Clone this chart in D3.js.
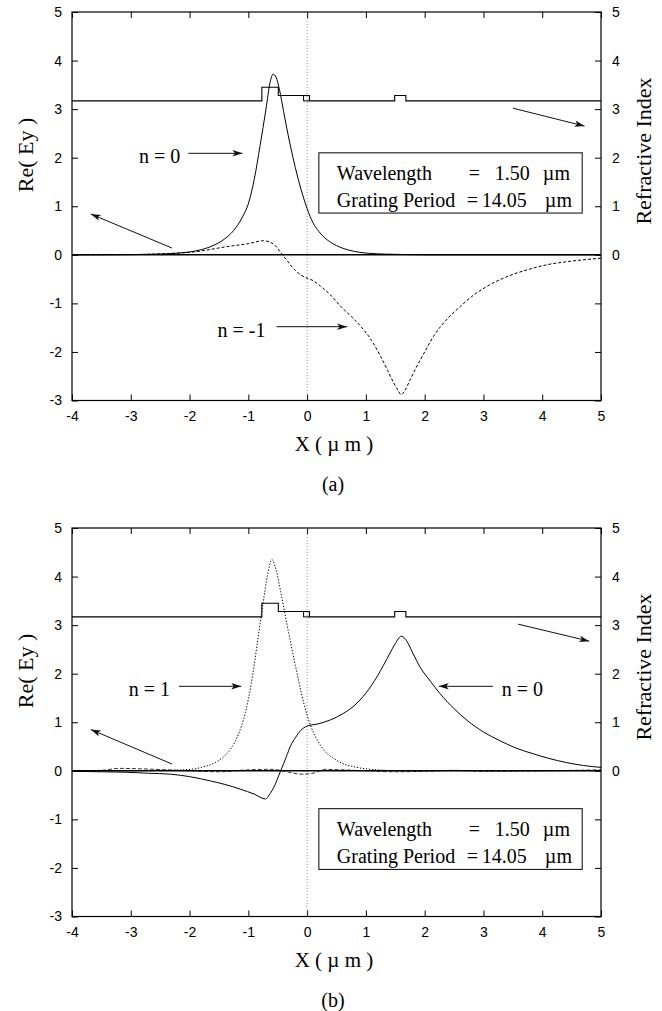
<!DOCTYPE html>
<html>
<head>
<meta charset="utf-8">
<script src="https://cdn.jsdelivr.net/npm/d3@7/dist/d3.min.js"></script>
<style>
  body { margin: 0; background: #fff; }
  svg { display: block; }
  .tick text { font-family: "Liberation Sans", Arial, sans-serif; font-size: 14px; fill: #000; }
  .serif { font-family: "Liberation Serif", "Times New Roman", serif; fill: #000; }
</style>
</head>
<body>
<svg id="chart" width="662" height="1011"></svg>
<script>
// ---- data ----
const xTickValues = [-4, -3, -2, -1, 0, 1, 2, 3, 4, 5];
const yTickValues = [-3, -2, -1, 0, 1, 2, 3, 4, 5];
const rightTickLabels = [0, 1, 2, 3, 4, 5];

// refractive index profile (x in um, index)
const profileX = [-4, -0.77, -0.77, -0.49, -0.49, 0.04, 0.04, 1.49, 1.49, 1.68, 1.68, 5];
const profileN = [3.17, 3.17, 3.45, 3.45, 3.28, 3.28, 3.17, 3.17, 3.28, 3.28, 3.17, 3.17];
const capLayer = [-0.06, 0.04, 3.17, 3.28]; // x0, x1, n0, n1

// panel (a)
const aSolidX = [-4, -3, -2.6, -2.2, -1.82, -1.6, -1.4, -1.25, -1.1, -1.0, -0.9, -0.8, -0.7, -0.63, -0.58, -0.53, -0.47, -0.4, -0.32, -0.24, -0.16, -0.08, 0, 0.1, 0.2, 0.34, 0.5, 0.7, 0.9, 1.2, 1.5, 2, 5];
const aSolidY = [0, 0.004, 0.012, 0.035, 0.1, 0.19, 0.33, 0.5, 0.78, 1.05, 1.55, 2.25, 3.0, 3.55, 3.72, 3.66, 3.4, 2.95, 2.45, 2.0, 1.6, 1.25, 0.95, 0.66, 0.48, 0.31, 0.19, 0.1, 0.05, 0.02, 0.01, 0, 0];
const aDashX = [-4, -3, -2.5, -2.3, -2, -1.8, -1.36, -1.0, -0.74, -0.65, -0.55, -0.45, -0.34, -0.2, -0.1, 0, 0.1, 0.23, 0.4, 0.57, 0.75, 0.91, 1.1, 1.25, 1.37, 1.47, 1.55, 1.6, 1.66, 1.75, 1.81, 2.0, 2.15, 2.4, 2.61, 2.8, 3.06, 3.4, 3.74, 4.1, 4.43, 5];
const aDashY = [0, 0.005, 0.02, 0.03, 0.05, 0.08, 0.17, 0.23, 0.29, 0.27, 0.2, 0.05, -0.12, -0.32, -0.42, -0.48, -0.53, -0.65, -0.83, -1.06, -1.27, -1.47, -1.77, -2.09, -2.38, -2.63, -2.8, -2.88, -2.8, -2.58, -2.43, -2.0, -1.68, -1.3, -1.06, -0.86, -0.65, -0.45, -0.31, -0.2, -0.14, -0.07];

// panel (b)
const bDotX = [-4, -3, -2.5, -2.1, -1.8, -1.6, -1.45, -1.3, -1.17, -1.05, -0.95, -0.85, -0.75, -0.67, -0.6, -0.53, -0.45, -0.34, -0.2, -0.06, 0.06, 0.23, 0.51, 0.85, 1.2, 1.6, 5];
const bDotY = [0, 0, 0.01, 0.02, 0.07, 0.15, 0.26, 0.45, 0.75, 1.2, 1.8, 2.6, 3.45, 4.05, 4.35, 4.15, 3.69, 3.0, 2.17, 1.41, 0.93, 0.52, 0.21, 0.07, 0.02, 0, 0];
const bSolidX = [-4, -3.5, -3.06, -2.7, -2.32, -2.0, -1.64, -1.4, -1.13, -0.9, -0.71, -0.62, -0.57, -0.5, -0.45, -0.35, -0.28, -0.2, -0.11, 0, 0.2, 0.4, 0.6, 0.8, 1.0, 1.2, 1.4, 1.5, 1.6, 1.66, 1.72, 1.8, 1.92, 2.1, 2.26, 2.5, 2.72, 3.0, 3.28, 3.55, 3.85, 4.1, 4.41, 4.7, 5];
const bSolidY = [-0.01, -0.02, -0.03, -0.05, -0.07, -0.12, -0.21, -0.28, -0.38, -0.48, -0.58, -0.45, -0.35, -0.15, 0, 0.3, 0.52, 0.68, 0.83, 0.92, 0.97, 1.05, 1.17, 1.34, 1.6, 1.96, 2.4, 2.62, 2.77, 2.73, 2.62, 2.42, 2.14, 1.84, 1.59, 1.28, 1.04, 0.8, 0.62, 0.47, 0.35, 0.26, 0.17, 0.11, 0.07];
const bNoiseX = [-4, -3.5, -3.2, -2.8, -2.4, -2.0, -1.5, -1.0, -0.6, -0.3, -0.1, 0.1, 0.3, 0.6, 1.0, 1.5, 2.0, 2.5, 3.0, 4.0, 5.0];
const bNoiseY = [0, 0.01, 0.05, 0.04, 0.02, 0, -0.02, 0.02, 0.03, -0.03, -0.07, -0.05, 0.03, 0.02, 0, -0.02, -0.01, 0.01, -0.01, 0, 0.02];

// annotations (data units)
const aArrows = [
  { from: [-2.30, 0.14], to: [-3.68, 0.84] },
  { from: [3.50, 3.02], to: [4.72, 2.65] },
  { from: [-2.02, 2.09], to: [-1.10, 2.09] },
  { from: [-0.52, -1.48], to: [0.68, -1.48] }
];
const aLabels = [
  { text: "n = 0", at: [-2.02, 2.09], anchor: "end", dx: -8 },
  { text: "n = -1", at: [-0.52, -1.48], anchor: "end", dx: -11 }
];
const bArrows = [
  { from: [-2.30, 0.14], to: [-3.68, 0.85] },
  { from: [3.59, 3.02], to: [4.80, 2.67] },
  { from: [-2.18, 1.74], to: [-1.12, 1.74] },
  { from: [3.16, 1.74], to: [2.24, 1.74] }
];
const bLabels = [
  { text: "n = 1", at: [-2.18, 1.74], anchor: "end", dx: -9 },
  { text: "n = 0", at: [3.16, 1.74], anchor: "start", dx: 9 }
];
const legendLines = [
  ["Wavelength", "=", "1.50", "\u00b5m"],
  ["Grating Period", "=", "14.05", "\u00b5m"]
];

// ---- layout ----
const margin = { left: 72, right: 61 };
const W = 662;
const plotH = 388.5;
const panels = [
  { top: 12, caption: "(a)", legendBox: [0.2, 4.68, 2.1, 0.86],
    series: [
      { x: aSolidX, y: aSolidY, dash: null },
      { x: aDashX, y: aDashY, dash: "3,2" }
    ], arrows: aArrows, labels: aLabels },
  { top: 528, caption: "(b)", legendBox: [0.2, 4.68, -0.78, -2.03],
    series: [
      { x: bNoiseX, y: bNoiseY, dash: "4,2", width: 0.8 },
      { x: bDotX, y: bDotY, dash: "1.3,1.7" },
      { x: bSolidX, y: bSolidY, dash: null }
    ], arrows: bArrows, labels: bLabels }
];

const svg = d3.select("#chart");
const defs = svg.append("defs");
defs.append("marker")
  .attr("id", "head")
  .attr("viewBox", "-12 -5 14 10")
  .attr("markerWidth", 14)
  .attr("markerHeight", 10)
  .attr("refX", 0).attr("refY", 0)
  .attr("markerUnits", "userSpaceOnUse")
  .attr("orient", "auto")
  .append("path")
  .attr("d", "M0,0 L-10,-3.2 L-7.5,0 L-10,3.2 Z")
  .attr("fill", "#111");

const x = d3.scaleLinear().domain([-4, 5]).range([margin.left, W - margin.right]);

panels.forEach(p => {
  const y = d3.scaleLinear().domain([-3, 5]).range([p.top + plotH, p.top]);
  const g = svg.append("g");

  // frame
  g.append("rect")
    .attr("x", x(-4)).attr("y", y(5))
    .attr("width", x(5) - x(-4)).attr("height", y(-3) - y(5))
    .attr("fill", "none").attr("stroke", "#000").attr("stroke-width", 1.2);

  // axes (ticks point inward), plain hyphen for negatives
  const fmt = d => String(d);
  const bottom = g.append("g").attr("transform", `translate(0,${y(-3)})`)
    .call(d3.axisBottom(x).tickValues(xTickValues).tickSize(-6).tickSizeOuter(0).tickPadding(11).tickFormat(fmt));
  const top = g.append("g").attr("transform", `translate(0,${y(5)})`)
    .call(d3.axisTop(x).tickValues(xTickValues).tickSize(-6).tickSizeOuter(0).tickFormat(""));
  const left = g.append("g").attr("transform", `translate(${x(-4)},0)`)
    .call(d3.axisLeft(y).tickValues(yTickValues).tickSize(-6).tickSizeOuter(0).tickPadding(10).tickFormat(fmt));
  const right = g.append("g").attr("transform", `translate(${x(5)},0)`)
    .call(d3.axisRight(y).tickValues(yTickValues).tickSize(-6).tickSizeOuter(0).tickPadding(11)
      .tickFormat(d => rightTickLabels.includes(d) ? String(d) : ""));
  [bottom, top, left, right].forEach(a => {
    a.select(".domain").remove();
    a.selectAll(".tick line").attr("stroke", "#000").attr("stroke-width", 1);
  });

  // x = 0 dotted guide
  g.append("line")
    .attr("x1", x(0)).attr("x2", x(0)).attr("y1", y(5)).attr("y2", y(-3))
    .attr("stroke", "#777").attr("stroke-width", 0.8).attr("stroke-dasharray", "1,2");

  // refractive index profile
  const prof = profileX.map((v, i) => [v, profileN[i]]);
  g.append("path")
    .attr("d", d3.line().x(d => x(d[0])).y(d => y(d[1]))(prof))
    .attr("fill", "none").attr("stroke", "#000").attr("stroke-width", 1.1);
  g.append("rect")
    .attr("x", x(capLayer[0])).attr("y", y(capLayer[3]))
    .attr("width", x(capLayer[1]) - x(capLayer[0]))
    .attr("height", y(capLayer[2]) - y(capLayer[3]))
    .attr("fill", "none").attr("stroke", "#000").attr("stroke-width", 1);

  // zero line
  g.append("line")
    .attr("x1", x(-4)).attr("x2", x(5)).attr("y1", y(0)).attr("y2", y(0))
    .attr("stroke", "#000").attr("stroke-width", 1.6);

  // field curves
  const line = d3.line().x(d => x(d[0])).y(d => y(d[1])).curve(d3.curveMonotoneX);
  p.series.forEach(s => {
    g.append("path")
      .attr("d", line(s.x.map((v, i) => [v, s.y[i]])))
      .attr("fill", "none").attr("stroke", "#000")
      .attr("stroke-width", s.width || 1)
      .attr("stroke-dasharray", s.dash);
  });

  // legend box
  const lb = p.legendBox;
  const bx = x(lb[0]), by = y(lb[2]);
  g.append("rect")
    .attr("x", bx).attr("y", by)
    .attr("width", x(lb[1]) - bx).attr("height", y(lb[3]) - by)
    .attr("fill", "#fff").attr("stroke", "#000").attr("stroke-width", 1);
  const cols = [[18, 150, 176, 224], [18, 148, 163, 226]];
  legendLines.forEach((row, r) => {
    row.forEach((t, c) => {
      g.append("text").attr("class", "serif")
        .attr("x", bx + cols[r][c]).attr("y", by + 27 + r * 27)
        .style("font-size", "20px")
        .text(t);
    });
  });

  // arrows and labels
  p.arrows.forEach(a => {
    g.append("line")
      .attr("x1", x(a.from[0])).attr("y1", y(a.from[1]))
      .attr("x2", x(a.to[0])).attr("y2", y(a.to[1]))
      .attr("stroke", "#111").attr("stroke-width", 1)
      .attr("marker-end", "url(#head)");
  });
  p.labels.forEach(l => {
    g.append("text").attr("class", "serif")
      .attr("x", x(l.at[0]) + l.dx).attr("y", y(l.at[1]) + 10)
      .attr("text-anchor", l.anchor)
      .style("font-size", "20px")
      .text(l.text);
  });

  // axis titles
  g.append("text").attr("class", "serif")
    .attr("transform", `translate(33,${p.top + 143}) rotate(-90)`)
    .attr("text-anchor", "middle").style("font-size", "22px")
    .text("Re( Ey )");
  g.append("text").attr("class", "serif")
    .attr("transform", `translate(651,${p.top + 139}) rotate(-90)`)
    .attr("text-anchor", "middle").style("font-size", "22px")
    .text("Refractive Index");
  g.append("text").attr("class", "serif")
    .attr("x", 334).attr("y", y(-3) + 50)
    .attr("text-anchor", "middle").style("font-size", "21px")
    .text("X ( \u00b5 m )");
  g.append("text").attr("class", "serif")
    .attr("x", 333).attr("y", y(-3) + 90)
    .attr("text-anchor", "middle").style("font-size", "20px")
    .text(p.caption);
});
</script>
</body>
</html>
